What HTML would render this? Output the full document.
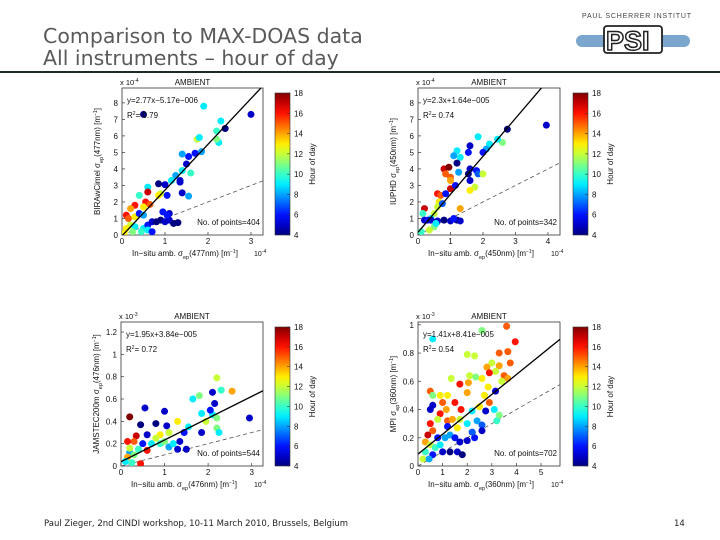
<!DOCTYPE html>
<html><head><meta charset="utf-8"><style>
body{margin:0;width:720px;height:540px;background:#fff;overflow:hidden;position:relative;font-family:"Liberation Sans",sans-serif}
.t{position:absolute;left:43px;color:#5a5a5a;font-family:"DejaVu Sans","Liberation Sans",sans-serif;font-size:20.5px;line-height:22px}
</style></head><body>
<div class="t" style="top:25px">Comparison to MAX-DOAS data<br>All instruments – hour of day</div>
<div style="position:absolute;left:0;top:71px;width:720px;height:2px;background:#1c2a2a"></div>
<svg style="position:absolute;left:570px;top:8px" width="130" height="50">
<text x="12" y="10" font-size="7" fill="#444" font-family="Liberation Sans" letter-spacing="0.8">PAUL SCHERRER INSTITUT</text>
<rect x="6" y="27" width="114" height="12" rx="6" fill="#7ba7cf"/>
<rect x="34" y="18" width="58" height="27" rx="3" fill="#fff" stroke="#222" stroke-width="1.8"/>
<text x="36" y="42" font-size="27" font-weight="bold" fill="#fff" stroke="#222" stroke-width="1.5" font-family="Liberation Sans">PSI</text>
</svg>
<div style="position:absolute;left:44px;top:519px;font-size:8.5px;color:#222;font-family:'DejaVu Sans',sans-serif">Paul Zieger, 2nd CINDI workshop, 10-11 March 2010, Brussels, Belgium</div>
<div style="position:absolute;left:674px;top:519px;font-size:8.5px;color:#222;font-family:'DejaVu Sans',sans-serif">14</div>
<svg id="chart" style="position:absolute;left:0;top:0" width="720" height="540"></svg>
<script>
// Plot 1: BIRA (x,y in 1e-4)
const p1x=[3.0,2.4,1.9,2.3,2.2,2.25,2.2,1.75,1.8,1.85,1.7,1.55,1.4,1.5,1.4,1.6,1.35,1.35,1.25,1.4,1.55,1.15,1.0,0.85,0.9,0.85,1.05,0.6,0.6,0.55,0.65,0.5,0.4,0.3,0.2,0.1,0.15,0.3,0.4,0.5,0.2,0.1,0.3,0.5,0.6,0.7,0.8,0.9,1.0,1.1,1.2,1.3,1.1,0.95,1.05,0.6,0.45,0.25,0.05,0.7,0.5];
const p1y=[7.3,6.45,7.8,6.9,6.3,5.6,5.8,5.8,5.9,5.05,4.95,4.75,4.9,4.3,3.9,3.75,3.3,3.2,3.6,2.55,2.35,3.3,3.05,3.1,2.5,2.4,2.4,2.9,2.6,2.0,1.85,1.7,2.4,1.8,1.6,1.2,1.0,1.1,1.3,1.2,0.6,0.4,0.5,0.4,0.6,0.8,0.8,0.9,0.8,0.9,0.7,0.75,1.3,1.4,1.2,0.3,0.2,0.2,0.1,0.2,7.3];
const p1h=[5,4,9,9,10,9,11,12,9,8,6,6,8,5,9,10,5,5,8,5,8,9,5,4,12,13,6,9,17,16,15,13,10,16,14,16,15,13,6,8,12,13,9,9,6,5,4,4,5,5,4,4,5,6,6,9,10,11,13,6,4];
// Plot 2: IUPHD
const p2x=[3.95,2.75,2.6,2.45,2.2,2.1,2.0,1.85,1.6,1.55,1.2,1.3,1.1,1.25,1.2,1.6,1.55,1.8,1.85,2.0,1.75,1.6,1.6,0.8,0.95,0.85,1.0,1.0,1.0,1.15,0.6,0.7,0.65,0.6,0.75,0.85,0.5,0.4,0.2,0.15,0.2,0.3,0.4,0.6,0.8,1.0,1.2,1.3,1.1,1.3,0.5,0.35,0.1,0.55];
const p2y=[6.65,6.4,5.6,5.8,5.5,5.2,5.0,5.95,5.4,5.0,5.1,4.7,4.8,3.8,4.35,4.0,3.7,3.9,3.7,3.7,2.9,2.7,3.3,4.0,4.1,3.7,3.5,3.3,2.8,3.0,2.5,2.4,2.0,1.7,1.9,2.5,1.3,1.0,1.6,1.3,0.9,0.9,0.9,0.85,0.9,0.85,0.9,0.85,1.0,1.6,0.5,0.3,0.2,0.7];
const p2h=[5,4,11,9,9,8,6,9,5,6,9,9,8,8,4,5,4,6,7,12,12,13,5,17,18,15,15,14,17,6,16,15,13,12,7,6,12,9,17,10,5,6,5,5,4,5,4,5,6,14,11,12,10,9];
// Plot 3: JAMSTEC (x in 1e-4, y in 1e-3)
const p3x=[2.95,2.2,2.55,2.3,2.1,1.8,1.65,2.15,2.1,1.85,1.95,2.2,2.2,2.25,2.05,1.85,1.55,1.3,1.45,1.35,1.5,1.3,1.0,0.55,0.45,0.2,0.8,1.05,0.35,0.6,0.9,1.1,0.3,0.15,0.5,0.7,0.9,1.0,1.1,0.2,0.3,0.4,0.6,0.15,0.1,0.25,0.45,0.2,0.8,1.2];
const p3y=[0.43,0.79,0.67,0.68,0.66,0.63,0.6,0.56,0.46,0.47,0.4,0.43,0.34,0.3,0.5,0.3,0.35,0.4,0.3,0.22,0.15,0.15,0.49,0.52,0.37,0.44,0.38,0.36,0.27,0.28,0.28,0.3,0.22,0.22,0.2,0.2,0.2,0.22,0.17,0.12,0.1,0.15,0.14,0.08,0.04,0.03,0.02,0.16,0.25,0.2];
const p3h=[5,12,14,10,5,11,9,5,9,9,12,11,11,9,6,5,9,13,6,5,5,5,5,5,4,18,4,5,17,5,13,12,15,16,6,9,10,11,8,8,11,10,16,14,9,10,16,12,12,9];
// Plot 4: MPI (x in 1e-4, y in 1e-3)
const p4x=[3.6,2.6,3.95,0.6,3.65,3.3,3.75,2.0,2.3,3.0,2.8,3.3,3.15,2.9,3.5,1.35,2.1,2.35,2.6,2.85,3.4,3.65,3.15,2.05,1.7,0.5,0.6,0.9,1.2,1.5,2.0,1.75,2.7,2.9,3.1,3.3,2.75,3.2,2.5,2.2,0.6,1.0,1.15,0.9,0.8,1.2,1.4,1.7,2.0,2.4,2.6,0.5,0.6,0.4,0.3,0.5,0.7,0.9,1.1,1.3,1.5,1.7,2.0,2.3,2.6,0.5,0.8,1.0,1.3,1.6,1.8,0.6,0.3,0.2,1.2,1.6,2.2,0.45];
const p4y=[0.99,0.96,0.88,0.9,0.81,0.8,0.73,0.79,0.78,0.73,0.7,0.71,0.67,0.66,0.64,0.62,0.64,0.63,0.62,0.56,0.6,0.62,0.53,0.59,0.58,0.53,0.5,0.5,0.5,0.45,0.52,0.4,0.5,0.45,0.4,0.36,0.39,0.32,0.42,0.39,0.43,0.45,0.4,0.37,0.33,0.32,0.33,0.33,0.3,0.32,0.29,0.3,0.25,0.22,0.17,0.15,0.13,0.15,0.2,0.22,0.2,0.17,0.18,0.2,0.25,0.4,0.2,0.1,0.1,0.1,0.08,0.08,0.1,0.05,0.28,0.27,0.24,0.05];
const p4h=[15,11,16,9,15,15,15,12,12,12,14,14,12,16,15,12,12,11,13,13,12,14,5,14,16,15,11,13,13,16,14,16,13,15,9,11,5,10,13,9,5,15,14,16,12,15,14,12,9,8,7,16,15,17,14,12,10,9,8,8,6,5,5,6,5,5,6,5,4,5,4,6,10,12,6,13,7,8];

const svg=document.getElementById('chart');
const NS='http://www.w3.org/2000/svg';
function mk(tag,attrs,parent){const e=document.createElementNS(NS,tag);for(const k in attrs)e.setAttribute(k,attrs[k]);(parent||svg).appendChild(e);return e;}
function jet(h){let v=(h-4)/14;v=Math.max(0,Math.min(1,v));
 const f=t=>Math.max(0,Math.min(1,1.5-Math.abs(4*v-t)));
 return `rgb(${Math.round(f(3)*255)},${Math.round(f(2)*255)},${Math.round(f(1)*255)})`;}
function txt(x,y,s,size,name,extra){const t=mk('text',Object.assign({x:x,y:y,'font-size':size||8,'font-family':'Liberation Sans, sans-serif',fill:'#111'},extra||{}));t.textContent=s;return t;}

const plots=[
 {id:'bira',xs:p1x,ys:p1y,hs:p1h,x0:122,x1:263,yb:235,yt:88,xmax:3.28,ymax:8.9,xt:[0,1,2,3],yt_:[0,1,2,3,4,5,6,7,8],yfmt:v=>String(v),slope:2.77,icpt:-0.0517,dscale:1,cbx:275,eq:'y=2.77x−5.17e−006',r2:'0.79',n:'No. of points=404',exp:'x 10',ee:'-4',ylab:'BIRAwCimel σ',ysub:'ep',ywl:'(477nm)  [m',xwl:'(477nm)'},
 {id:'iuphd',xs:p2x,ys:p2y,hs:p2h,x0:418,x1:560,yb:235,yt:88,xmax:4.37,ymax:8.9,xt:[0,1,2,3,4],yt_:[0,1,2,3,4,5,6,7,8],yfmt:v=>String(v),slope:2.3,icpt:0.164,dscale:1,cbx:573,eq:'y=2.3x+1.64e−005',r2:'0.74',n:'No. of points=342',exp:'x 10',ee:'-4',ylab:'IUPHD σ',ysub:'ep',ywl:'(450nm)  [m',xwl:'(450nm)'},
 {id:'jamstec',xs:p3x,ys:p3y,hs:p3h,x0:121,x1:263,yb:466,yt:322,xmax:3.26,ymax:1.29,xt:[0,1,2,3],yt_:[0,0.2,0.4,0.6,0.8,1,1.2],yfmt:v=>String(v),slope:0.195,icpt:0.0384,dscale:0.1,cbx:275,eq:'y=1.95x+3.84e−005',r2:'0.72',n:'No. of points=544',exp:'x 10',ee:'-3',ylab:'JAMSTEC200m σ',ysub:'ep',ywl:'(476nm)  [m',xwl:'(476nm)'},
 {id:'mpi',xs:p4x,ys:p4y,hs:p4h,x0:418,x1:560,yb:466,yt:322,xmax:5.77,ymax:1.02,xt:[0,1,2,3,4,5],yt_:[0,0.2,0.4,0.6,0.8,1],yfmt:v=>String(v),slope:0.141,icpt:0.0841,dscale:0.1,cbx:573,eq:'y=1.41x+8.41e−005',r2:'0.54',n:'No. of points=702',exp:'x 10',ee:'-3',ylab:'MPI σ',ysub:'ep',ywl:'(360nm)  [m',xwl:'(360nm)'}
];

plots.forEach(p=>{
 const X=v=>p.x0+(p.x1-p.x0)*v/p.xmax;
 const Y=v=>p.yb-(p.yb-p.yt)*v/p.ymax;
 const g=mk('g',{});
 
 
 const clipId='clip-'+p.id;
 const cp=mk('clipPath',{id:clipId},g);mk('rect',{x:p.x0,y:p.yt,width:p.x1-p.x0,height:p.yb-p.yt},cp);
 const bx=mk('rect',{x:p.x0,y:p.yt,width:p.x1-p.x0,height:p.yb-p.yt,fill:'#fff',stroke:'#333','stroke-width':0.8},g);
 
 
 p.xt.forEach(v=>{mk('line',{x1:X(v),x2:X(v),y1:p.yb,y2:p.yb-3,stroke:'#333','stroke-width':0.7},g);
  const t=txt(X(v),p.yb+9,String(v),8,'x-tick-label',{'text-anchor':'middle'});g.appendChild(t);});
 p.yt_.forEach(v=>{mk('line',{x1:p.x0,x2:p.x0+3,y1:Y(v),y2:Y(v),stroke:'#333','stroke-width':0.7},g);
  const t=txt(p.x0-4,Y(v)+3,p.yfmt(v),8,'y-tick-label',{'text-anchor':'end'});g.appendChild(t);});
 const inner=mk('g',{'clip-path':`url(#${clipId})`},g);
 const dl=mk('line',{x1:X(0),y1:Y(0),x2:X(p.xmax),y2:Y(p.xmax*p.dscale),stroke:'#555','stroke-width':0.8,'stroke-dasharray':'4,3'},inner);
 
 
 p.xs.forEach((xv,i)=>{const c=mk('circle',{cx:X(xv),cy:Y(p.ys[i]),r:3.5,fill:jet(p.hs[i])},inner);
  
  });
 const fl=mk('line',{x1:X(0),y1:Y(p.icpt),x2:X(p.xmax),y2:Y(p.icpt+p.slope*p.xmax),stroke:'#000','stroke-width':1.3},inner);
 
 
 g.appendChild(txt((p.x0+p.x1)/2,p.yt-3,'AMBIENT',8,'plot-title',{'text-anchor':'middle'}));
 const e=txt(p.x0-2,p.yt-3,p.exp,7.5,'y-exponent');e.innerHTML=p.exp+'<tspan dy="-3" font-size="5">'+p.ee+'</tspan>';g.appendChild(e);
 g.appendChild(txt(p.x0+5,p.yt+15,p.eq,8,'fit-equation'));
 const r=txt(p.x0+5,p.yt+30,'',8,'r-squared');r.innerHTML='R<tspan dy="-3" font-size="5">2</tspan><tspan dy="3">= '+p.r2+'</tspan>';g.appendChild(r);
 g.appendChild(txt(p.x1-3,p.yb-10,p.n,8,'points-count',{'text-anchor':'end'}));
 const xl=txt(p.x0+10,p.yb+21,'',8,'x-axis-title');xl.innerHTML='In−situ amb. σ<tspan dy="3" font-size="5.5">ep</tspan><tspan dy="-3">'+p.xwl+'  [m</tspan><tspan dy="-3" font-size="5">−1</tspan><tspan dy="3">]</tspan>';g.appendChild(xl);
 const xe=txt(p.x1-9,p.yb+21,'',7,'x-exponent');xe.innerHTML='10<tspan dy="-3" font-size="5">-4</tspan>';g.appendChild(xe);
 const yx=p.x0-22,yy=(p.yt+p.yb)/2;
 const yl=txt(yx,yy,'',8,'y-axis-title',{'text-anchor':'middle',transform:`rotate(-90 ${yx} ${yy})`});
 yl.innerHTML=p.ylab+'<tspan dy="3" font-size="5.5">'+p.ysub+'</tspan><tspan dy="-3">'+p.ywl+'</tspan><tspan dy="-3" font-size="5">−1</tspan><tspan dy="3">]</tspan>';g.appendChild(yl);
 const gid='grad-'+p.id;const lg=mk('linearGradient',{id:gid,x1:0,y1:1,x2:0,y2:0},g);
 for(let k=0;k<=14;k++){mk('stop',{offset:k/14,'stop-color':jet(4+k)},lg);}
 const cby0=p.yt+5;
 const cb=mk('rect',{x:p.cbx,y:cby0,width:15,height:p.yb-cby0,fill:`url(#${gid})`,stroke:'#333','stroke-width':0.6},g);
 
 
 [4,6,8,10,12,14,16,18].forEach(h=>{const yy2=p.yb-(p.yb-cby0)*(h-4)/14;
  mk('line',{x1:p.cbx+15,x2:p.cbx+12,y1:yy2,y2:yy2,stroke:'#333','stroke-width':0.6},g);
  g.appendChild(txt(p.cbx+19,yy2+3,String(h),8,'colorbar-tick-label'));});
 const hx=p.cbx+40,hy=(cby0+p.yb)/2;
 g.appendChild(txt(hx,hy,'Hour of day',8,'colorbar-title',{'text-anchor':'middle',transform:`rotate(-90 ${hx} ${hy})`}));
});
</script>
</body></html>
